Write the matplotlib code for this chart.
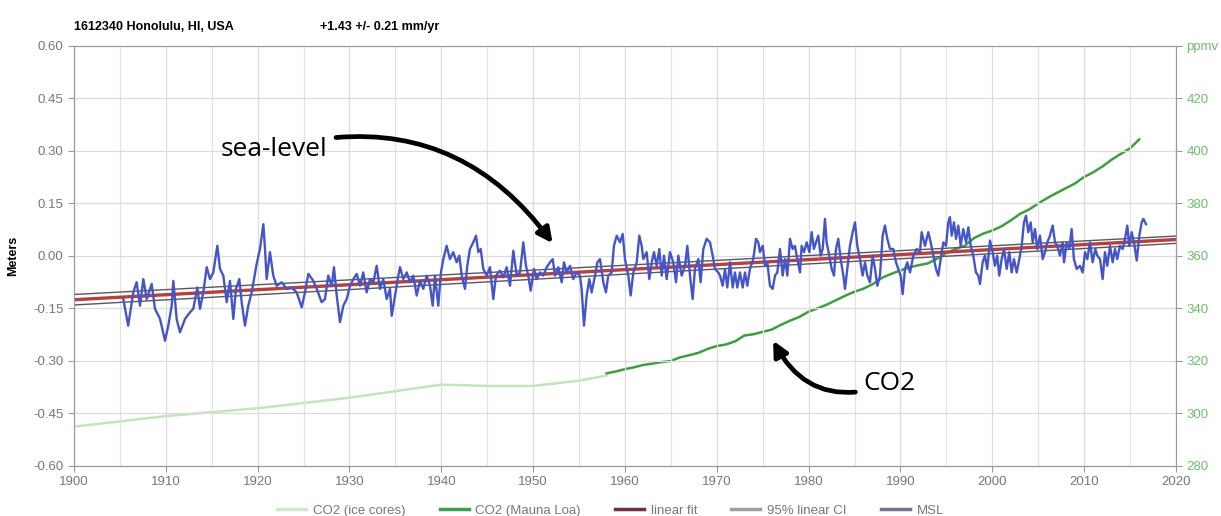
import matplotlib
matplotlib.use('Agg')
import matplotlib.pyplot as plt
from matplotlib.lines import Line2D

plt.rcParams['font.family'] = ['Liberation Sans', 'DejaVu Sans']

station_title = '1612340 Honolulu, HI, USA'
trend_text = '+1.43 +/- 0.21 mm/yr'

# monthly mean sea level (m)
msl_years = [
    1905.37, 1905.9, 1906.46, 1906.82, 1907.19, 1907.55, 1907.92, 1908.46, 1908.82, 1909.37,
    1909.91, 1910.27, 1910.64, 1910.82, 1911.18, 1911.54, 1912.09, 1912.63, 1912.99, 1913.43,
    1913.72, 1914.08, 1914.45, 1914.81, 1915.17, 1915.61, 1915.9, 1916.26, 1916.63, 1916.99,
    1917.35, 1917.64, 1918.0, 1918.26, 1918.62, 1918.98, 1919.35, 1919.89, 1920.25, 1920.62,
    1920.8, 1920.98, 1921.34, 1921.7, 1922.07, 1922.61, 1923.16, 1923.7, 1924.25, 1924.8,
    1925.15, 1925.52, 1926.06,
    1926.43, 1926.97, 1927.33, 1927.69, 1928.06, 1928.31, 1928.61, 1928.97, 1929.33, 1929.7,
    1930.06, 1930.42, 1930.79, 1931.15, 1931.5, 1931.87, 1932.23, 1932.6, 1932.96, 1933.32,
    1933.68, 1934.05, 1934.41, 1934.6, 1934.96, 1935.32, 1935.5, 1935.86, 1936.23, 1936.59,
    1936.95, 1937.32, 1937.68, 1938.04, 1938.41, 1938.77, 1939.06, 1939.31, 1939.67, 1939.96,
    1940.22, 1940.58, 1940.94, 1941.3, 1941.67, 1941.96, 1942.22, 1942.58, 1942.83, 1943.12,
    1943.48, 1943.78, 1944.03, 1944.29, 1944.57, 1944.94, 1945.3, 1945.66, 1945.95, 1946.39,
    1946.75, 1947.12, 1947.48, 1947.84, 1948.21, 1948.57,
    1948.93, 1949.22, 1949.47, 1949.73, 1950.09, 1950.38, 1950.75, 1951.1, 1951.48, 1951.84,
    1952.13, 1952.38, 1952.74, 1953.11, 1953.36, 1953.65, 1954.01, 1954.37, 1954.74, 1955.1,
    1955.28, 1955.54, 1955.83, 1956.12, 1956.37, 1956.74, 1956.99, 1957.28, 1957.64, 1957.93,
    1958.18, 1958.55, 1958.8, 1959.1, 1959.46, 1959.75, 1960.0, 1960.36, 1960.62, 1960.91,
    1961.28, 1961.56, 1961.82, 1962.0, 1962.36, 1962.65, 1962.91, 1963.16, 1963.45, 1963.74,
    1964.0, 1964.25, 1964.54, 1964.9, 1965.26, 1965.56, 1965.81, 1966.18, 1966.54, 1966.79,
    1967.08, 1967.37, 1967.62, 1967.99, 1968.24, 1968.53, 1968.9, 1969.26, 1969.55, 1969.8,
    1970.16,
    1970.35, 1970.64, 1970.89, 1971.14, 1971.44, 1971.73, 1971.98, 1972.23, 1972.52, 1972.82,
    1973.07, 1973.32, 1973.61, 1973.97, 1974.27, 1974.52, 1974.7, 1975.0, 1975.25, 1975.5,
    1975.79, 1976.08, 1976.34, 1976.59, 1976.88, 1977.17, 1977.43, 1977.68, 1977.97, 1978.26,
    1978.51, 1978.77, 1979.06, 1979.24, 1979.5, 1979.79, 1980.08, 1980.33, 1980.58, 1980.8,
    1981.05, 1981.31, 1981.53, 1981.78, 1981.96, 1982.25, 1982.51, 1982.76, 1982.98, 1983.23,
    1983.49, 1983.78, 1983.96, 1984.21, 1984.5, 1984.8, 1985.05, 1985.3, 1985.59, 1985.88,
    1986.14, 1986.39, 1986.68, 1986.97, 1987.23, 1987.48, 1987.77, 1988.06, 1988.31, 1988.57,
    1988.86, 1989.22, 1989.51, 1989.76, 1990.02, 1990.24, 1990.49, 1990.74, 1991.04, 1991.4,
    1991.77, 1992.12,
    1992.31, 1992.67, 1993.03, 1993.29, 1993.58, 1993.87, 1994.12, 1994.38, 1994.67, 1994.96,
    1995.21, 1995.39, 1995.58, 1995.83, 1996.05, 1996.3, 1996.56, 1996.84, 1997.14, 1997.39,
    1997.65, 1997.93, 1998.22, 1998.48, 1998.66, 1998.95, 1999.2, 1999.45, 1999.75, 2000.04,
    2000.29, 2000.54, 2000.76, 2001.02, 2001.27, 2001.57, 2001.85, 2002.11, 2002.36, 2002.66,
    2002.94, 2003.2, 2003.45, 2003.67, 2003.92, 2004.18, 2004.4, 2004.65, 2004.9, 2005.19,
    2005.49, 2005.74, 2005.99, 2006.28, 2006.58, 2006.83, 2007.08, 2007.37, 2007.66, 2007.81,
    2008.1, 2008.39, 2008.64, 2008.89, 2009.19, 2009.55, 2009.84, 2010.1, 2010.35, 2010.64,
    2010.93, 2011.22, 2011.44, 2011.73, 2012.02, 2012.27, 2012.52, 2012.82, 2013.11, 2013.36,
    2013.61, 2013.9, 2014.19, 2014.45, 2014.7, 2014.92, 2015.18, 2015.43, 2015.73, 2016.01,
    2016.27, 2016.45, 2016.74,
]
msl_values = [
    -0.123, -0.199, -0.104, -0.075, -0.142, -0.066, -0.123, -0.080, -0.151, -0.180,
    -0.242, -0.199, -0.142, -0.071, -0.180, -0.218, -0.180, -0.161, -0.151, -0.090,
    -0.151, -0.104, -0.032, -0.066, -0.047, 0.029, -0.037, -0.056, -0.132, -0.071,
    -0.180, -0.094, -0.066, -0.132, -0.199, -0.142, -0.104, -0.023, 0.020, 0.091,
    0.020, -0.066, 0.011, -0.056, -0.085, -0.075, -0.094, -0.090, -0.104, -0.147,
    -0.104, -0.051, -0.071,
    -0.094, -0.132, -0.123, -0.056, -0.085, -0.032, -0.113, -0.189, -0.142, -0.123,
    -0.085, -0.066, -0.051, -0.085, -0.047, -0.104, -0.066, -0.075, -0.028, -0.094,
    -0.066, -0.123, -0.094, -0.171, -0.113, -0.056, -0.032, -0.066, -0.047, -0.075,
    -0.056, -0.113, -0.071, -0.094, -0.056, -0.085, -0.142, -0.056, -0.142, -0.047,
    -0.009, 0.029, -0.009, 0.011, -0.018, 0.001, -0.056, -0.094, -0.028, 0.020,
    0.039, 0.058, 0.011, 0.020, -0.037, -0.056, -0.032, -0.123, -0.056, -0.042,
    -0.061, -0.032, -0.085, 0.015, -0.056, -0.047,
    0.039, -0.028, -0.056, -0.099, -0.037, -0.066, -0.047, -0.056, -0.032, -0.018,
    -0.009, -0.056, -0.032, -0.075, -0.018, -0.047, -0.028, -0.066, -0.047, -0.056,
    -0.094, -0.199, -0.113, -0.066, -0.104, -0.056, -0.018, -0.009, -0.075, -0.104,
    -0.056, -0.047, 0.029, 0.058, 0.039, 0.063, -0.009, -0.056, -0.113, -0.047,
    -0.018, 0.058, 0.029, -0.009, 0.011, -0.066, -0.018, 0.011, -0.028, 0.020,
    -0.056, 0.001, -0.066, 0.011, -0.018, -0.075, 0.001, -0.056, -0.028, 0.029,
    -0.056, -0.123, -0.037, -0.009, -0.075, 0.020, 0.049, 0.039, 0.001, -0.037,
    -0.047,
    -0.056, -0.085, -0.037, -0.090, -0.018, -0.090, -0.047, -0.090, -0.047, -0.090,
    -0.047, -0.085, -0.037, -0.009, 0.049, 0.039, 0.011, 0.029, -0.028, -0.018,
    -0.085, -0.094, -0.056, -0.047, 0.020, -0.056, -0.009, -0.056, 0.049, 0.020,
    0.029, -0.009, -0.047, 0.029, 0.011, 0.039, 0.011, 0.068, 0.020, 0.039,
    0.058, 0.001, 0.020, 0.106, 0.039, 0.001, -0.037, -0.056, 0.020, 0.049,
    -0.009, -0.056, -0.094, -0.037, 0.029, 0.068, 0.096, 0.029, -0.009, -0.056,
    -0.018, -0.056, -0.075, 0.001, -0.037, -0.085, -0.056, 0.058, 0.087, 0.049,
    0.020, 0.020, -0.018, -0.037, -0.056, -0.109, -0.037, -0.018, -0.047, 0.001,
    0.020, 0.011,
    0.068, 0.029, 0.068, 0.039, 0.001, -0.037, -0.056, -0.009, 0.039, 0.029,
    0.096, 0.111, 0.058, 0.096, 0.049, 0.087, 0.029, 0.077, 0.039, 0.082,
    0.029, 0.001, -0.047, -0.056, -0.080, -0.018, 0.001, -0.037, 0.044, 0.011,
    -0.028, 0.001, -0.056, -0.009, 0.020, -0.037, 0.011, -0.047, -0.009, -0.047,
    -0.009, 0.029, 0.096, 0.115, 0.068, 0.096, 0.039, 0.077, 0.020, 0.058,
    -0.009, 0.011, 0.039, 0.058, 0.087, 0.039, 0.029, 0.001, 0.039, -0.018,
    0.039, 0.020, 0.077, -0.009, -0.037, -0.028, -0.047, 0.011, -0.009, 0.039,
    -0.018, 0.020, 0.001, -0.009, -0.066, 0.011, -0.028, 0.029, -0.018, 0.020,
    -0.009, 0.029, 0.020, 0.049, 0.087, 0.029, 0.068, 0.039, -0.013, 0.058,
    0.096, 0.106, 0.091,
]

# linear trend and its 95% band (m)
fit_years = [1900, 2020]
fit_values = [-0.125, 0.047]
ci_upper = [-0.110, 0.057]
ci_lower = [-0.140, 0.036]

# CO2 (ppmv)
ice_years = [1900, 1905, 1910, 1915, 1920, 1925, 1930, 1935, 1940, 1945, 1950, 1955, 1958]
ice_ppm = [295.0, 297.0, 299.0, 300.5, 302.0, 304.0, 306.0, 308.5, 311.0, 310.5, 310.5, 312.5, 314.5]

mauna_years = [1958, 1959, 1960, 1961, 1962, 1963, 1964, 1965, 1966, 1967, 1968, 1969,
               1970, 1971, 1972, 1973, 1974, 1975, 1976, 1977, 1978, 1979, 1980, 1981,
               1982, 1983, 1984, 1985, 1986, 1987, 1988, 1989, 1990, 1991, 1992, 1993,
               1994, 1995, 1996, 1997, 1998, 1999, 2000, 2001, 2002, 2003, 2004, 2005,
               2006, 2007, 2008, 2009, 2010, 2011, 2012, 2013, 2014, 2015, 2016]
mauna_ppm = [315.3, 316.0, 316.9, 317.6, 318.5, 319.0, 319.6, 320.0, 321.4, 322.2, 323.1, 324.6,
             325.7, 326.3, 327.5, 329.7, 330.2, 331.1, 332.0, 333.8, 335.4, 336.8, 338.8, 340.1,
             341.5, 343.2, 344.9, 346.4, 347.6, 349.3, 351.7, 353.2, 354.5, 355.7, 356.5, 357.2,
             359.0, 361.0, 362.7, 363.9, 366.8, 368.5, 369.7, 371.3, 373.5, 376.0, 377.7, 380.0,
             382.1, 384.0, 385.8, 387.6, 390.1, 391.9, 394.1, 396.7, 398.9, 401.0, 404.4]

meter_ticks = [-0.60, -0.45, -0.30, -0.15, 0.00, 0.15, 0.30, 0.45, 0.60]
ppm_ticks = [280, 300, 320, 340, 360, 380, 400, 420, 440]
ppm_labels = ['280', '300', '320', '340', '360', '380', '400', '420', 'ppmv']
year_ticks = [1900, 1910, 1920, 1930, 1940, 1950, 1960, 1970, 1980, 1990, 2000, 2010, 2020]
grid_years = [1905, 1915, 1925, 1935, 1945, 1955, 1965, 1975, 1985, 1995, 2005, 2015]

fig = plt.figure(figsize=(12.21, 5.16), dpi=100)
ax = fig.add_axes([0.0606, 0.0969, 0.9025, 0.814])
ax2 = ax.twinx()

# CO2 on the right-hand axis
ax2.plot(ice_years, ice_ppm, color='#c2e5bb', lw=1.8)
ax2.plot(mauna_years, mauna_ppm, color='#3f9e3f', lw=1.8)
ax2.set_ylim(280, 440)
ax2.set_yticks(ppm_ticks)
ax2.set_yticklabels(ppm_labels)
ax2.tick_params(axis='y', colors='#999999', labelcolor='#6cbf6c', labelsize=9.5, length=4)

# sea level on the left
ax.set_zorder(ax2.get_zorder() + 1)
ax.patch.set_visible(False)
ax.plot(fit_years, ci_upper, color='#5a5560', lw=1.0)
ax.plot(fit_years, ci_lower, color='#5a5560', lw=1.0)
ax.plot(fit_years, fit_values, color='#b5403c', lw=2.4)
ax.plot(msl_years, msl_values, color='#4455c8', lw=1.7)

ax.set_xlim(1900, 2020)
ax.set_ylim(-0.60, 0.60)
ax.set_yticks(meter_ticks)
ax.set_yticklabels(['%.2f' % t for t in meter_ticks])
ax.set_xticks(year_ticks)
ax.set_xticks(grid_years, minor=True)
ax.tick_params(axis='both', which='major', colors='#999999', labelcolor='#777777', labelsize=9.5, length=4)
ax.tick_params(axis='x', which='minor', length=0)
ax.grid(True, which='major', color='#dcdcdc', lw=0.9)
ax.grid(True, which='minor', axis='x', color='#e2e2e2', lw=0.9)
ax.set_axisbelow(True)
ax.set_ylabel('Meters', fontsize=9, fontweight='bold', labelpad=10)

for a in (ax, ax2):
    for s in a.spines.values():
        s.set_color('#9a9a9a')

# hand-drawn style callouts
ax.annotate('sea-level', xy=(1952.3, 0.03), xytext=(1916.0, 0.305),
            family='Open Sans', fontsize=19, va='center', ha='left',
            arrowprops=dict(arrowstyle='-|>', color='black', lw=3.4, mutation_scale=22,
                            shrinkA=4, connectionstyle='arc3,rad=-0.35'))
ax.annotate('CO2', xy=(1976.0, -0.235), xytext=(1986.0, -0.365),
            family='Open Sans', fontsize=19, va='center', ha='left',
            arrowprops=dict(arrowstyle='-|>', color='black', lw=3.4, mutation_scale=22,
                            shrinkA=4, connectionstyle='arc3,rad=-0.45'))

fig.text(0.0606, 0.948, station_title, fontsize=9, fontweight='bold', va='center')
fig.text(0.262, 0.948, trend_text, fontsize=9, fontweight='bold', va='center')

handles = [
    Line2D([], [], color='#cfe8ca', lw=2.5),
    Line2D([], [], color='#3f9e4f', lw=2.5),
    Line2D([], [], color='#6e3040', lw=2.5),
    Line2D([], [], color='#a0a0a0', lw=2.5),
    Line2D([], [], color='#7a7590', lw=2.5),
]
labels = ['CO2 (ice cores)', 'CO2 (Mauna Loa)', 'linear fit', '95% linear CI', 'MSL']
fig.legend(handles, labels, loc='lower center', bbox_to_anchor=(0.5, -0.025), ncol=5,
           frameon=False, fontsize=9.5, labelcolor='#777777', handlelength=2.2,
           columnspacing=2.6, handletextpad=0.5)

fig.savefig('out.png', dpi=100)
